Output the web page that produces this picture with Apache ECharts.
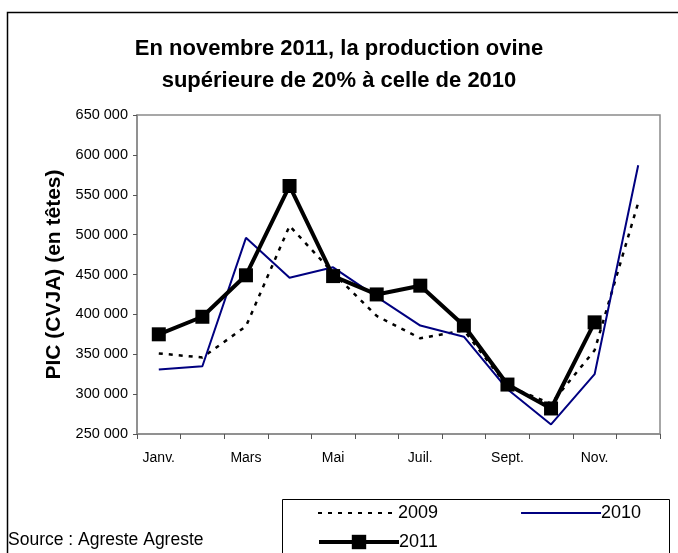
<!DOCTYPE html>
<html>
<head>
<meta charset="utf-8">
<script src="https://cdn.jsdelivr.net/npm/echarts@6/dist/echarts.min.js"></script>
<style>
  html, body { margin: 0; padding: 0; background: #fff; }
  #chart { width: 678px; height: 553px; }
</style>
</head>
<body>
<div id="chart"></div>
<script>
// mois (une étiquette sur deux affichée)
var mois = ['Janv.', 'Févr.', 'Mars', 'Avr.', 'Mai', 'Juin', 'Juil.', 'Août', 'Sept.', 'Oct.', 'Nov.', 'Déc.'];
// production ovine PIC (CVJA), en têtes
var prod2009 = [351000, 346000, 385000, 511000, 452000, 398000, 370000, 380000, 310000, 288000, 355000, 540000];
var prod2010 = [331000, 335000, 496000, 446000, 459000, 422000, 386000, 372000, 306000, 262000, 325000, 587000];
var prod2011 = [375000, 397000, 449000, 561000, 448000, 425000, 436000, 386000, 312000, 282000, 390000, null];

var police = '"Liberation Sans", Arial, sans-serif';

// séparateur de milliers : 650 000
function milliers(v) {
    return String(v).replace(/\B(?=(\d{3})+(?!\d))/g, ' ');
}

var myChart = echarts.init(document.getElementById('chart'));
var option = {
    backgroundColor: '#fff',
    animation: false,
    title: {
        text: 'En novembre 2011, la production ovine\nsupérieure de 20% à celle de 2010',
        left: 'center',
        top: 28,
        textStyle: {
            fontFamily: police,
            fontSize: 22,
            fontWeight: 'bold',
            color: '#000',
            lineHeight: 32
        }
    },
    legend: [
        {
            data: ['2009', '2010'],
            left: 317,
            top: 504,
            padding: 0,
            itemWidth: 80,
            itemHeight: 14,
            itemGap: 82,
            itemStyle: { opacity: 0 },
            textStyle: { fontFamily: police, fontSize: 18, color: '#000', padding: [0, 0, 0, -5] }
        },
        {
            data: ['2011'],
            left: 317,
            top: 533,
            padding: 0,
            itemWidth: 80,
            itemHeight: 18,
            lineStyle: { width: 4, color: '#000' },
            textStyle: { fontFamily: police, fontSize: 18, color: '#000', padding: [0, 0, 0, -5] }
        }
    ],
    grid: {
        left: 137,
        right: 18,
        top: 115,
        bottom: 119,
        show: true,
        borderColor: '#8a8a8a',
        borderWidth: 1.5
    },
    xAxis: {
        type: 'category',
        data: mois,
        boundaryGap: true,
        axisLine: { lineStyle: { color: '#8a8a8a', width: 1.5 } },
        axisTick: { show: true, interval: 0, length: 5, lineStyle: { color: '#555' } },
        axisLabel: {
            interval: 1,
            margin: 17,
            fontFamily: police,
            fontSize: 14,
            color: '#000'
        }
    },
    yAxis: {
        type: 'value',
        min: 250000,
        max: 650000,
        interval: 50000,
        name: 'PIC (CVJA) (en têtes)',
        nameLocation: 'middle',
        nameGap: 68,
        nameRotate: 90,
        nameTextStyle: { fontFamily: police, fontSize: 21, fontWeight: 'bold', color: '#000' },
        splitLine: { show: false },
        axisLine: { show: true, lineStyle: { color: '#8a8a8a', width: 1.5 } },
        axisTick: { show: true, length: 4, lineStyle: { color: '#555' } },
        axisLabel: {
            margin: 9,
            fontFamily: police,
            fontSize: 14.5,
            color: '#000',
            formatter: milliers
        }
    },
    series: [
        {
            name: '2009',
            type: 'line',
            data: prod2009,
            symbol: 'none',
            lineStyle: { color: '#000', width: 2.5, type: [4, 6] },
            itemStyle: { color: '#000' }
        },
        {
            name: '2010',
            type: 'line',
            data: prod2010,
            symbol: 'none',
            lineStyle: { color: '#000080', width: 2 },
            itemStyle: { color: '#000080' }
        },
        {
            name: '2011',
            type: 'line',
            data: prod2011,
            symbol: 'rect',
            symbolSize: 14,
            lineStyle: { color: '#000', width: 4 },
            itemStyle: { color: '#000' }
        }
    ],
    graphic: [
        {
            type: 'rect',
            shape: { x: 7.5, y: 12.5, width: 720, height: 600 },
            style: { fill: 'none', stroke: '#000', lineWidth: 1.5 },
            silent: true
        },
        {
            type: 'rect',
            shape: { x: 282.5, y: 499.5, width: 387, height: 80 },
            style: { fill: 'none', stroke: '#000', lineWidth: 1 },
            silent: true
        },
        {
            type: 'text',
            left: 8,
            top: 531,
            style: { text: 'Source : Agreste Agreste', fontFamily: police, fontSize: 17.5, fill: '#000' }
        }
    ]
};
myChart.setOption(option);
</script>
</body>
</html>
